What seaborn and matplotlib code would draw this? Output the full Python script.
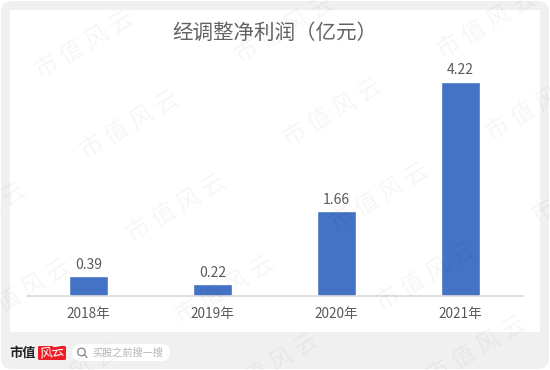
import matplotlib
matplotlib.use("Agg")
import matplotlib.pyplot as plt
from matplotlib.patches import FancyBboxPatch, Rectangle, Circle
import pandas as pd
import seaborn as sns

years = ["2018年", "2019年", "2020年", "2021年"]
profit = [0.39, 0.22, 1.66, 4.22]
value_labels = ["0.39", "0.22", "1.66", "4.22"]
title = "经调整净利润（亿元）"
brand = "市值"
brand_box = "风云"
search_hint = "买股之前搜一搜"
watermark = "市 值 风 云"
watermark_centers = [(85, 45), (130, 125), (177, 208), (225, 290), (270, 367),
                     (285, 30), (333, 113), (380, 197), (426, 277), (477, 350),
                     (487, 25), (536, 107), (582, 190), (-23, 217), (22, 293),
                     (70, 378), (-70, 135)]

sns.set_theme(style="white")
plt.rcParams['font.family'] = ['Noto Sans CJK SC', 'DejaVu Sans']
W, H = 550, 370
fig = plt.figure(figsize=(W / 100, H / 100), dpi=100, facecolor="white")

# page background
bg = fig.add_axes([0, 0, 1, 1], zorder=0)
bg.set_xlim(0, W); bg.set_ylim(H, 0); bg.axis("off")
bg.add_patch(FancyBboxPatch((1, 1), W - 2, H - 2, boxstyle="round,pad=0,rounding_size=11",
                            fc="#f0f0f0", ec="none"))
bg.add_patch(Rectangle((10, 10), 530, 322, fc="white", ec="none"))

# chart
x0, x1, base, top = 26.5, 522.5, 295.5, 60
ax = fig.add_axes([x0 / W, (H - base) / H, (x1 - x0) / W, (base - top) / H], zorder=1)
ax.patch.set_alpha(0)
df = pd.DataFrame({"year": years, "profit": profit})
sns.barplot(data=df, x="year", y="profit", color="#4472C4", saturation=1, width=0.315, ax=ax)
ax.set_xlim(-0.5, 3.5)
ax.set_ylim(0, (base - top) / 50.7)
ax.set_xlabel(""); ax.set_ylabel("")
ax.set_yticks([])
ax.tick_params(axis="x", length=0, pad=8, labelsize=9.8, labelcolor="#595959")
for s in ["top", "left", "right"]:
    ax.spines[s].set_visible(False)
ax.spines["bottom"].set_color("#d9d9d9")
ax.spines["bottom"].set_linewidth(1.2)
for i, (v, t) in enumerate(zip(profit, value_labels)):
    ax.annotate(t, (i, v), xytext=(0, 3), textcoords="offset points", ha="center", va="bottom",
                fontsize=10, color="#595959")

# overlay: title, footer, watermark
ov = fig.add_axes([0, 0, 1, 1], zorder=2)
ov.patch.set_alpha(0)
ov.set_xlim(0, W); ov.set_ylim(H, 0); ov.axis("off")
ov.text(275, 33, title, ha="center", va="center", fontsize=14.8, color="#636363")
ov.text(23, 353, brand, ha="center", va="center", fontsize=9.5, color="#222222", fontweight="bold")
ov.add_patch(FancyBboxPatch((38, 346), 28, 14, boxstyle="round,pad=0,rounding_size=1.5", fc="#ee1c25", ec="none"))
ov.text(52, 353, brand_box, ha="center", va="center", fontsize=9, color="white", style="italic", rotation=8)
ov.add_patch(FancyBboxPatch((72, 344), 98, 17, boxstyle="round,pad=0,rounding_size=8.5", fc="white", ec="none"))
ov.add_patch(Circle((81.5, 352), 3.8, fc="none", ec="#8c8c8c", lw=1))
ov.plot([84.3, 87], [354.8, 357.5], color="#8c8c8c", lw=1)
ov.text(92, 352.5, search_hint, ha="left", va="center", fontsize=7.3, color="#b5b5b5")
for cx, cy in watermark_centers:
    ov.text(cx, cy, watermark, ha="center", va="center", rotation=31, rotation_mode="anchor",
            fontsize=17, color="black", alpha=0.04, clip_on=True)

fig.savefig("out.png", dpi=100, facecolor="white")
